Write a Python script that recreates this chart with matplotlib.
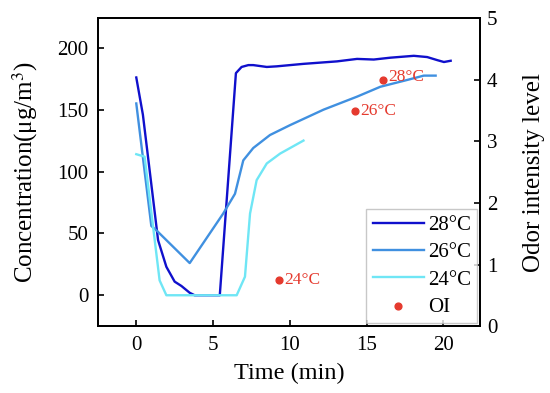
import matplotlib.pyplot as plt

plt.rcParams['font.family'] = ['Liberation Serif', 'DejaVu Serif']
plt.rcParams['mathtext.fontset'] = 'stix'

# concentration curves (time in min, concentration in ug/m3)
t28 = [0, 0.43, 0.87, 1.42, 1.96, 2.5, 2.94, 3.48, 3.8, 5.44, 6.49, 6.86, 7.3, 7.62,
       8.5, 9.15, 10.89, 13.07, 14.38, 15.47, 16.56, 18.08, 18.95, 19.61, 20.04, 20.48]
c28 = [176, 146, 101, 44.5, 23, 11, 7.5, 2, 0, 0, 179.5, 184.5, 186, 186,
       184.5, 185, 187, 189, 191, 190.5, 192, 193.5, 192.5, 190, 188.5, 189.5]

t26 = [0, 0.98, 1.31, 3.48, 5.66, 6.43, 6.97, 7.62, 8.71, 10.02, 12.2, 14.38,
       15.9, 17.65, 18.73, 19.5]
c26 = [155, 56, 52.5, 26, 66, 82, 109, 119, 129.5, 137.5, 150, 160.5,
       168.5, 174, 177.5, 177.5]

t24 = [0, 0.54, 1.52, 1.96, 6.54, 7.08, 7.41, 7.84, 8.5, 9.37, 10.89]
c24 = [114, 112, 12, 0, 0, 15, 66, 93, 106.5, 114.5, 125]

# odor intensity points
oi_t = [16.08, 14.22, 9.3]
oi_v = [4.0, 3.5, 0.75]
oi_lab = ['28°C', '26°C', '24°C']

red = '#E53A2E'

fig, ax = plt.subplots(figsize=(5.5, 3.93), dpi=100)
fig.subplots_adjust(left=0.178, right=0.873, bottom=0.17, top=0.954)

l28, = ax.plot(t28, c28, color='#1010CC', lw=1.7, label='28°C')
l26, = ax.plot(t26, c26, color='#4090E0', lw=1.7, label='26°C')
l24, = ax.plot(t24, c24, color='#6FE6F5', lw=1.7, label='24°C')

ax.set_xlim(-2.5, 22.4)
ax.set_ylim(-25, 224)
ax.set_xticks([0, 5, 10, 15, 20])
ax.set_yticks([0, 50, 100, 150, 200])
ax.set_xlabel('Time (min)', fontsize=17.5, labelpad=6)
ax.set_ylabel('Concentration(μg/m$^3$)', fontsize=18, labelpad=12)

ax2 = ax.twinx()
sc = ax2.scatter(oi_t, oi_v, color=red, s=24, zorder=5, label='OI')
offsets = [(4, 2), (4, 0), (4, 0)]
for x, y, lab, off in zip(oi_t, oi_v, oi_lab, offsets):
    ax2.annotate(lab, (x, y), xytext=off, textcoords='offset points',
                 color=red, fontsize=12.5, va='center', ha='left')
ax2.set_ylim(0, 5)
ax2.set_yticks([0, 1, 2, 3, 4, 5])
ax2.set_ylabel('Odor intensity level', fontsize=18, labelpad=18)

ax.tick_params(direction='in', length=4, width=1.2, labelsize=15, pad=7)
ax2.tick_params(direction='in', length=4, width=1.2, labelsize=15, pad=5)
for a in (ax, ax2):
    for s in a.spines.values():
        s.set_linewidth(1.3)

leg = ax2.legend(handles=[l28, l26, l24, sc], loc='lower right', fontsize=15,
                 frameon=True, fancybox=False, edgecolor='#BBBBBB',
                 handlelength=2.45, handletextpad=0.2, labelspacing=0.37,
                 borderaxespad=0.15, borderpad=0.3)
leg.get_frame().set_linewidth(1.0)

fig.savefig('out.png', dpi=100)
